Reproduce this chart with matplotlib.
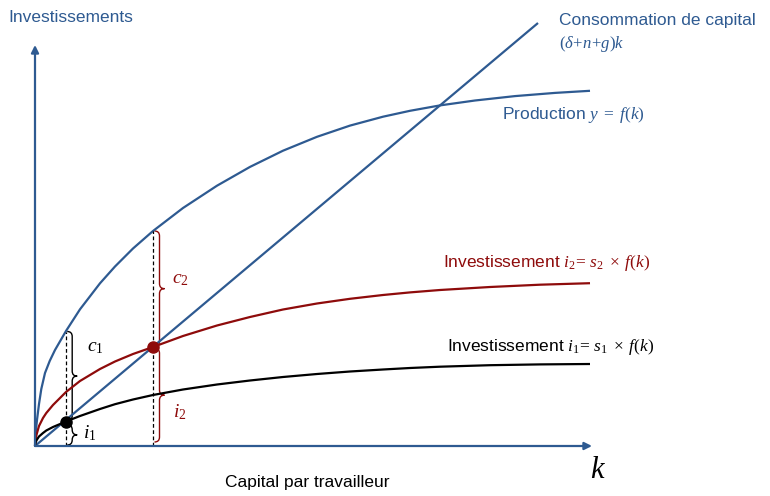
import matplotlib
matplotlib.use("Agg")
import matplotlib.pyplot as plt
from matplotlib.path import Path
from matplotlib.patches import PathPatch

plt.rcParams['font.family'] = ['Liberation Sans', 'DejaVu Sans']
plt.rcParams['mathtext.fontset'] = 'custom'
plt.rcParams['mathtext.rm'] = 'Liberation Serif'
plt.rcParams['mathtext.it'] = 'Liberation Serif:italic'
plt.rcParams['mathtext.bf'] = 'Liberation Serif:bold'

# ---- data ----
k_prod = [0, 0.5, 1, 2, 4, 6.3, 10, 14.7, 20, 31, 45, 65, 80, 98, 118, 148, 182,
          215, 248, 282, 315, 348, 375, 405, 440, 480, 520, 555]
production = [0, 11, 17, 26, 42, 57, 73, 85, 96, 115, 136.7, 162.7, 179.5, 197.5, 215, 238, 260.3,
              279.1, 295.3, 309.2, 320.4, 329.3, 335.2, 340.6, 345.5, 349.9, 353.1, 355.2]

k_inv = [0, 0.5, 1, 2, 4, 8, 11.3, 18, 31, 45, 65, 80, 98, 118, 148, 182, 215, 248, 282,
         315, 348, 375, 405, 455, 505, 555]
invest_2 = [0, 6, 9, 13, 20, 28, 33, 41, 54, 65, 77, 84.5, 92, 99, 110, 120.5, 129, 136.5, 142.5,
            147.2, 151, 153.6, 156, 159, 161.3, 162.8]
invest_1 = [0, 3, 4.5, 6.5, 9.5, 13, 15.5, 19, 24.5, 30, 37, 41.8, 46.5, 51, 56.5, 61.5, 65.5, 69, 72,
            74.5, 76.5, 78, 79.3, 80.8, 81.6, 82]

k_dep = [0, 503]
depreciation = [0, 423]

k_star1, i_star1, y_star1 = 30.7, 24.3, 114.5
k_star2, i_star2, y_star2 = 118, 98.7, 215

BLUE = '#2E5A91'
RED = '#8E0B0B'
BLACK = '#000000'

fig = plt.figure(figsize=(7.7, 4.96), dpi=100)
ax = fig.add_axes([0, 0, 1, 1])
ax.set_xlim(-35, 735)
ax.set_ylim(-50, 446)
ax.axis('off')

# axes with arrows
ax.annotate('', xy=(0, 401), xytext=(0, 0),
            arrowprops=dict(arrowstyle='-|>', color=BLUE, lw=1.6, mutation_scale=11,
                            shrinkA=0, shrinkB=0))
ax.annotate('', xy=(557, 0), xytext=(0, 0),
            arrowprops=dict(arrowstyle='-|>', color=BLUE, lw=1.6, mutation_scale=11,
                            shrinkA=0, shrinkB=0))

# curves
ax.plot(k_prod, production, color=BLUE, lw=1.6, solid_capstyle='butt', solid_joinstyle='round')
ax.plot(k_dep, depreciation, color=BLUE, lw=1.6, solid_capstyle='butt')
ax.plot(k_inv, invest_2, color=RED, lw=1.6, solid_capstyle='butt', solid_joinstyle='round')
ax.plot(k_inv, invest_1, color=BLACK, lw=1.6, solid_capstyle='butt', solid_joinstyle='round')

# dashed verticals
ax.plot([k_star1, k_star1], [0, y_star1], color='black', lw=0.9, ls=(0, (3, 2)))
ax.plot([k_star2, k_star2], [0, y_star2], color='black', lw=0.9, ls=(0, (3, 2)))

# dots
ax.plot([k_star1], [i_star1], 'o', color=BLACK, ms=8, zorder=5)
ax.plot([k_star2], [i_star2], 'o', color=RED, ms=8, zorder=5)


def brace(x, bot, top, w, color):
    h = w / 2.0
    mid = (bot + top) / 2.0
    r = min(5.0, (top - bot) / 4.0)
    verts = [(x, top), (x + h, top), (x + h, top - r),
             (x + h, mid + r),
             (x + h, mid), (x + w, mid),
             (x + h, mid), (x + h, mid - r),
             (x + h, bot + r),
             (x + h, bot), (x, bot)]
    codes = [Path.MOVETO, Path.CURVE3, Path.CURVE3,
             Path.LINETO,
             Path.CURVE3, Path.CURVE3,
             Path.CURVE3, Path.CURVE3,
             Path.LINETO,
             Path.CURVE3, Path.CURVE3]
    ax.add_patch(PathPatch(Path(verts, codes), fill=False, edgecolor=color, lw=1.0))


brace(k_star1 + 1.5, i_star1 + 1, y_star1, 10, BLACK)
brace(k_star1 + 1.5, 1, i_star1 - 3, 10, BLACK)
brace(k_star2 + 1.5, i_star2 + 1, y_star2, 10, RED)
brace(k_star2 + 1.5, 4, i_star2 - 1, 10, RED)

ax.text(60, 99, r'$c_{\mathit{1}}$', color=BLACK, fontsize=14, ha='center', va='center')
ax.text(55, 13, r'$i_{\mathit{1}}$', color=BLACK, fontsize=14, ha='center', va='center')
ax.text(145, 166, r'$c_{\mathit{2}}$', color=RED, fontsize=14, ha='center', va='center')
ax.text(145, 34, r'$i_{\mathit{2}}$', color=RED, fontsize=14, ha='center', va='center')

FS = 12.5
ax.text(-27, 428, 'Investissements', color=BLUE, fontsize=FS, ha='left', va='center')
ax.text(524, 426, 'Consommation de capital', color=BLUE, fontsize=FS, ha='left', va='center')
ax.text(524, 402, r'$(\delta\!+\!n\!+\!g)k$', color=BLUE, fontsize=12, ha='left', va='center')
ax.text(467, 331, r'Production $y\;=\;f(k)$', color=BLUE, fontsize=FS, ha='left', va='center')
ax.text(408, 183, r'Investissement $i_{\mathit{2}}\!=\,s_{\mathit{2}}\;\times\;f(k)$', color=RED,
        fontsize=FS, ha='left', va='center')
ax.text(412, 99, r'Investissement $i_{\mathit{1}}\!=\,s_{\mathit{1}}\;\times\;f(k)$', color=BLACK,
        fontsize=FS, ha='left', va='center')
ax.text(190, -37, 'Capital par travailleur', color=BLACK, fontsize=FS, ha='left', va='center')
ax.text(563, -24, r'$k$', color=BLACK, fontsize=22, ha='center', va='center')

fig.savefig('out.png', dpi=100)
